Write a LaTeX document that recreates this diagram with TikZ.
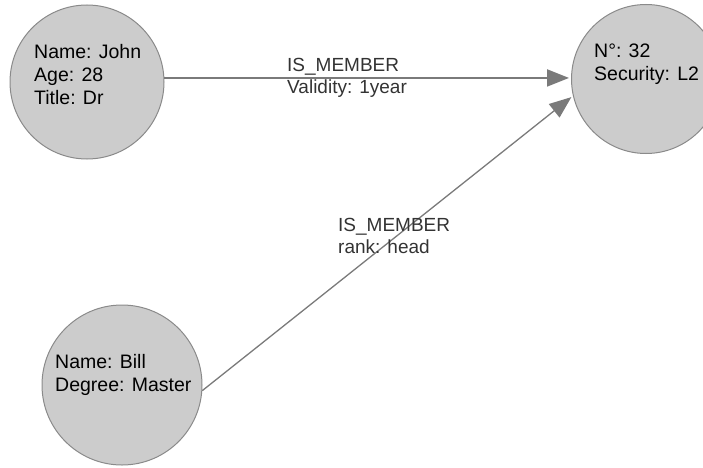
\documentclass[tikz,border=0pt]{standalone}
\usepackage{fontspec}
\setmainfont{Liberation Sans}
\usetikzlibrary{arrows.meta}
\definecolor{nodefill}{HTML}{CCCCCC}
\definecolor{nodeline}{HTML}{8A8A8A}
\definecolor{edgecol}{HTML}{7A7A7A}
\begin{document}
\begin{tikzpicture}[x=1pt,y=1pt,
  entity/.style={circle,fill=nodefill,draw=nodeline,line width=1pt,inner sep=0pt},
  props/.style={anchor=west,inner sep=0pt,align=left,font=\fontsize{19.5}{23}\selectfont,text=black},
  rel/.style={draw=edgecol,-{Triangle[length=22pt,width=17pt]},shorten >=2pt},
  rellabel/.style={anchor=west,inner sep=0pt,align=left,font=\fontsize{19}{22}\selectfont,text=black!80}]
\useasboundingbox (0,0) rectangle (703,467);
\begin{scope}
\clip (0,0) rectangle (703,467);
\node[entity,minimum size=154pt] (john) at (87,385) {};
\node[entity,minimum size=149pt] (team) at (646,388) {};
\node[entity,minimum size=160pt] (bill) at (122,82) {};
\end{scope}
\node[props] (johntext) at (34,392) {Name: John\\Age: 28\\Title: Dr};
\node[props] (teamtext) at (594,403) {N°: 32\\Security: L2};
\node[props] (billtext) at (55,92) {Name: Bill\\Degree: Master};
\draw[rel,line width=2pt] (john.3) -- (john.3 -| team.west);
\draw[rel,line width=1.3pt] (bill.-4) -- (team.193);
\node[rellabel] (l1) at (287,389) {IS\_MEMBER\\Validity: 1year};
\node[rellabel] (l2) at (338,231) {IS\_MEMBER\\rank: head};
\end{tikzpicture}
\end{document}
